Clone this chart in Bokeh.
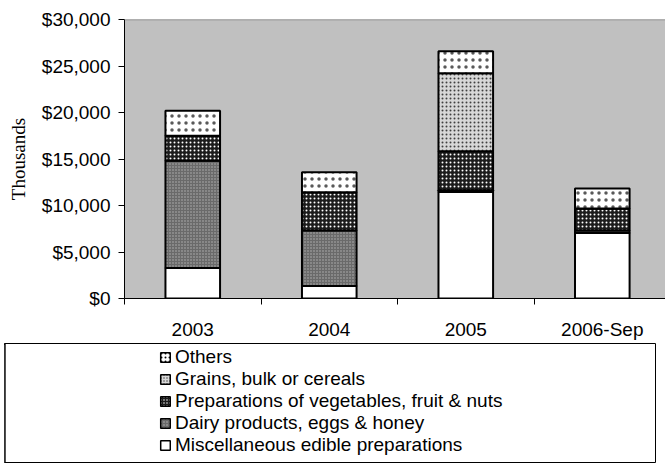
from bokeh.plotting import figure
from bokeh.models import (ColumnDataSource, Range1d, FixedTicker, Span, Legend,
                          LegendItem, NumeralTickFormatter)
from bokeh.layouts import column
from bokeh.embed import file_html
from bokeh.resources import INLINE

# ---- data (values in $ thousands) ----
categories = ["2003", "2004", "2005", "2006-Sep"]
series_names = ["Miscellaneous edible preparations",
                "Dairy products, eggs & honey",
                "Preparations of vegetables, fruit & nuts",
                "Grains, bulk or cereals",
                "Others"]
misc = [3280, 1350, 11450, 7050]
dairy = [11540, 5970, 200, 250]
prep = [2680, 4100, 4190, 2380]
grains = [0, 0, 8390, 0]
others = [2700, 2150, 2360, 2140]
y_ticks = [0, 5000, 10000, 15000, 20000, 25000, 30000]

# ---- styles ----
keys = ["misc", "dairy", "prep", "grains", "others"]
fills = ["#ffffff", "#6a6a6a", "#1c1c1c", "#d8d8d8", "#ffffff"]
hatches = [" ", ".", ".", ".", "."]
hatch_colors = ["#000000", "#b4b4b4", "#ffffff", "#404040", "#000000"]
hatch_scales = [4, 3, 4, 4, 7]
hatch_alphas = [1, 1, 1, 1, 0.65]

xs = [i + 0.5 for i in range(len(categories))]
source = ColumnDataSource(dict(x=xs, misc=misc, dairy=dairy, prep=prep,
                               grains=grains, others=others))

FONT = "Liberation Sans"

p = figure(width=665, height=342, x_range=Range1d(0, 3.963), y_range=Range1d(0, 30000),
           output_backend="svg", toolbar_location=None,
           min_border_left=124, min_border_right=0, min_border_top=19, min_border_bottom=43)
p.frame_align = False
p.background_fill_color = "#c0c0c0"
p.border_fill_color = "#ffffff"
p.outline_line_color = None
p.xgrid.visible = False
p.ygrid.visible = False

p.vbar_stack(keys, x="x", width=0.4, source=source,
             fill_color=fills, hatch_pattern=hatches, hatch_color=hatch_colors,
             hatch_scale=hatch_scales, hatch_alpha=hatch_alphas, hatch_weight=1,
             line_color="#000000", line_width=2)

p.add_layout(Span(location=30000, dimension="width", line_color="#808080", line_width=1.5))

# y axis
ya = p.yaxis[0]
ya.ticker = FixedTicker(ticks=y_ticks)
ya.formatter = NumeralTickFormatter(format="$0,0")
ya.major_tick_out = 6
ya.major_tick_in = 0
ya.minor_tick_out = 0
ya.minor_tick_in = 0
ya.axis_line_color = "#000000"
ya.major_tick_line_color = "#000000"
ya.major_label_text_font = FONT
ya.major_label_text_font_size = "19px"
ya.major_label_text_color = "#000000"
ya.major_label_standoff = 8
ya.axis_label = "Thousands"
ya.axis_label_text_font = "Liberation Serif"
ya.axis_label_text_font_size = "19px"
ya.axis_label_text_font_style = "normal"
ya.axis_label_text_color = "#000000"
ya.axis_label_standoff = 10

# x axis
xa = p.xaxis[0]
xa.ticker = FixedTicker(ticks=xs, minor_ticks=list(range(len(categories) + 1)))
xa.major_label_overrides = {x: c for x, c in zip(xs, categories)}
xa.major_tick_out = 0
xa.major_tick_in = 0
xa.minor_tick_out = 6
xa.minor_tick_in = 0
xa.minor_tick_line_color = "#000000"
xa.axis_line_color = "#000000"
xa.major_label_text_font = FONT
xa.major_label_text_font_size = "19px"
xa.major_label_text_color = "#000000"
xa.major_label_standoff = 14

# ---- legend panel (bars drawn off-range, only their legend glyphs show) ----
p2 = figure(width=665, height=121, x_range=Range1d(100, 101), y_range=Range1d(0, 1),
            output_backend="svg", toolbar_location=None,
            x_axis_location=None, y_axis_location=None,
            min_border_left=4, min_border_right=10, min_border_top=1, min_border_bottom=0)
p2.frame_align = False
p2.xgrid.visible = False
p2.ygrid.visible = False
p2.background_fill_color = "#ffffff"
p2.outline_line_color = "#000000"
p2.outline_line_width = 1

rends = p2.vbar_stack(keys, x="x", width=0.4, source=source,
                      fill_color=fills, hatch_pattern=hatches, hatch_color=hatch_colors,
                      hatch_scale=[4, 3, 3, 3, 4], hatch_weight=1,
                      line_color="#000000", line_width=1.5)

items = [LegendItem(label=series_names[i], renderers=[rends[i]]) for i in reversed(range(len(keys)))]
legend = Legend(items=items, location=(155, 7), orientation="vertical",
                padding=0, spacing=0, margin=0, border_line_alpha=0,
                background_fill_alpha=0, glyph_width=12, glyph_height=12,
                label_standoff=4, label_height=22,
                label_text_font=FONT, label_text_font_size="19px",
                label_text_color="#000000")
p2.add_layout(legend)

layout = column(p, p2, spacing=0)
open("out.html", "w").write(file_html(layout, INLINE))
